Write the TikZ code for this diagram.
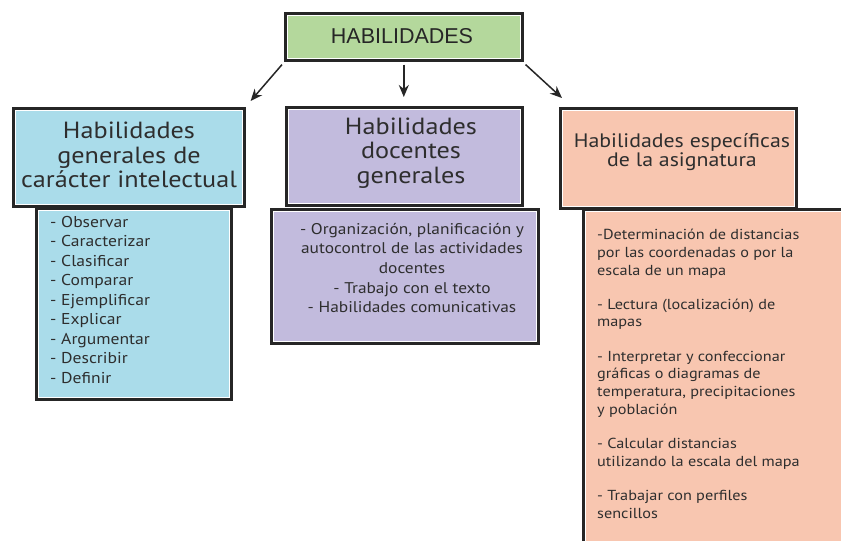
\documentclass[tikz,border=0pt]{standalone}
\usepackage{fontspec}
\setmainfont{PT Sans}[FakeStretch=1.12]
\newfontfamily\topfont{Liberation Sans}
\usetikzlibrary{calc,arrows.meta}
\definecolor{cgreen}{HTML}{B4D89C}
\definecolor{ccyan}{HTML}{AADCEA}
\definecolor{clav}{HTML}{C2BBDD}
\definecolor{csal}{HTML}{F8C6B0}
\definecolor{ctext}{HTML}{2E2E2E}
\tikzset{
  boxbase/.style={draw=black!85, line width=2.6pt, fill=white, inner sep=0pt, anchor=north west, text=ctext,
    path picture={\fill[#1] ($(path picture bounding box.north west)+(2.3pt,-2.3pt)$) rectangle ($(path picture bounding box.south east)+(-2.3pt,2.3pt)$);}},
  conn/.style={-{Stealth[length=12pt,width=10pt]}, line width=1.5pt, draw=black!85},
  txt/.style={text=ctext, inner sep=0pt}
}
\begin{document}
\begin{tikzpicture}[x=1pt,y=-1pt]
\useasboundingbox[fill=white] (0,0) rectangle (841,541);
% top
\node[boxbase=cgreen, minimum width=237pt, minimum height=47pt] (top) at (284,12) {};
\node[txt, text=black!85, font=\topfont\fontsize{21.5}{25}\selectfont] (toptxt) at (402,36) {HABILIDADES};
% headers
\node[boxbase=ccyan, minimum width=231pt, minimum height=98pt] (h1) at (12,107) {};
\node[boxbase=clav, minimum width=236pt, minimum height=98pt] (h2) at (285,106) {};
\node[boxbase=csal, minimum width=236pt, minimum height=100pt] (h3) at (559,107) {};
\node[txt, align=center, font=\fontsize{23.4}{24.5}\selectfont] (h1t) at (129,155) {Habilidades\\generales de\\carácter intelectual};
\node[txt, align=center, font=\fontsize{23.4}{24.5}\selectfont] (h2t) at (411,153) {Habilidades\\docentes\\generales};
\node[txt, align=center, font=\fontsize{19.5}{17}\selectfont] (h3t) at (682,152) {Habilidades específicas\\de la asignatura};
% lists
\node[boxbase=ccyan, minimum width=195pt, minimum height=191pt] (l1) at (35,207) {};
\node[txt, align=left, anchor=north west, font=\fontsize{15.7}{19.5}\selectfont] (l1t) at (50,216) {- Observar\\- Caracterizar\\- Clasificar\\- Comparar\\- Ejemplificar\\- Explicar\\- Argumentar\\- Describir\\- Definir};
\node[boxbase=clav, minimum width=267pt, minimum height=134pt] (l2) at (270,208) {};
\node[txt, align=center, font=\fontsize{15.5}{19.6}\selectfont] (l2t) at (412,268) {- Organización, planificación y\\autocontrol de las actividades\\docentes\\- Trabajo con el texto\\- Habilidades comunicativas};
\node[boxbase=csal, minimum width=280pt, minimum height=360pt] (l3) at (582,208) {};
\node[txt, align=left, anchor=north west, font=\fontsize{14.5}{17.7}\selectfont] (l3t) at (597,229) {-Determinación de distancias\\por las coordenadas o por la\\escala de un mapa\\[16.5pt]
- Lectura (localización) de\\mapas\\[16.5pt]
- Interpretar y confeccionar\\gráficas o diagramas de\\temperatura, precipitaciones\\y población\\[16.5pt]
- Calcular distancias\\utilizando la escala del mapa\\[17pt]
- Trabajar con perfiles\\sencillos};
% arrows
\draw[conn] ([xshift=-2pt,yshift=-3pt]top.south west) -- ([xshift=5pt,yshift=6pt]h1.north east);
\draw[conn] ([yshift=-3pt]top.south) -- ([yshift=9pt]h2.north -| top.south);
\draw[conn] ([xshift=2pt,yshift=-3pt]top.south east) -- ([xshift=3pt,yshift=9pt]h3.north west);
\end{tikzpicture}
\end{document}
